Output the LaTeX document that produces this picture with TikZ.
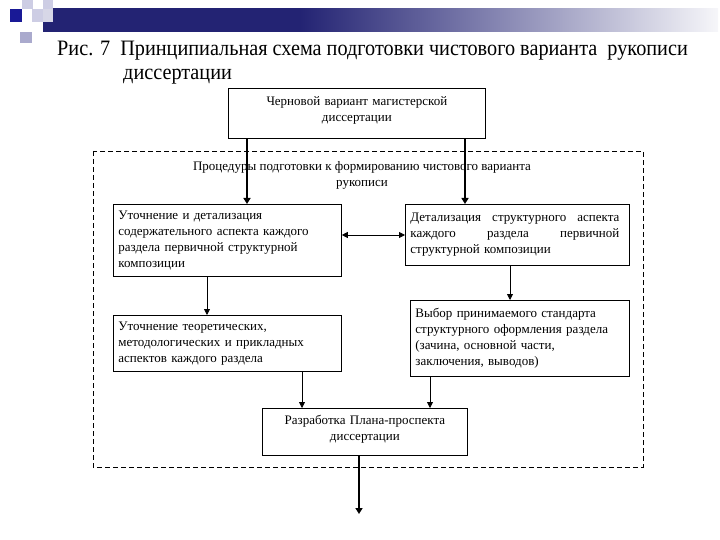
\documentclass[tikz,border=0pt]{standalone}
\usepackage{fontspec}
\setmainfont{Liberation Serif}
\newfontfamily\titlefont[FakeStretch=0.92]{Liberation Serif}
\usetikzlibrary{arrows.meta,calc}
\definecolor{navy}{RGB}{35,35,115}
\definecolor{sqdark}{RGB}{25,25,150}
\definecolor{sqlight}{RGB}{205,205,228}
\definecolor{sqmid}{RGB}{170,170,205}
\pgfdeclarehorizontalshading{barshade}{100bp}{color(0bp)=(navy); color(25bp)=(navy); color(44bp)=(navy); color(62bp)=(navy!45); color(75bp)=(navy!4); color(100bp)=(navy!4)}
\newcommand{\jline}[1]{\leavevmode\hbox to 209pt{#1}}
\tikzset{
  box/.style={draw=black, line width=0.8pt, inner xsep=5pt, inner ysep=0pt, anchor=north west,
     font=\fontsize{13}{16}\selectfont},
  conn/.style={line width=0.8pt, -{Triangle[length=6pt,width=6pt]}},
  thickconn/.style={line width=2pt, -{Triangle[length=6pt,width=7pt]}},
  dbl/.style={line width=0.8pt, {Triangle[length=6pt,width=6pt]}-{Triangle[length=6pt,width=6pt]}},
  ttl/.style={anchor=base west, inner sep=0pt, font=\titlefont\fontsize{22}{24}\selectfont},
}
\begin{document}
\begin{tikzpicture}[x=1pt,y=-1pt]
\useasboundingbox (0,0) rectangle (720,540);
% decoration
\shade[shading=barshade] (43,9) rectangle (718,32);
\fill[sqlight] (22,0) rectangle (33,9);
\fill[sqlight] (43,0) rectangle (53,9);
\fill[sqlight] (32,9) rectangle (43,22);
\fill[sqlight!70!navy!40] (43,9) rectangle (53,22);
\fill[sqdark] (10,9) rectangle (22,22);
\fill[sqmid] (20,32) rectangle (32,43);
% title
\node[ttl] (t1) at (57,56)
  {Рис. 7\ \ Принципиальная схема подготовки чистового варианта\ \ рукописи};
\node[ttl] (t2) at (123,80) {диссертации};
% frame
\draw[dash pattern=on 5pt off 3pt, line width=0.7pt] (93,151) rectangle (643,467);
% boxes
\node[box, minimum width=257pt, minimum height=50pt, align=center, text width=247pt] (top) at (228,88)
  {Черновой вариант магистерской\\диссертации\\[-8pt]\mbox{}};
\node[anchor=north, inner sep=0pt, align=center, font=\fontsize{13}{16}\selectfont] (head) at (362,161)
  {Процедуры подготовки к формированию чистового варианта\\рукописи};
\node[box, minimum width=228pt, minimum height=72pt, align=left, text width=218pt] (A) at (113,204)
  {Уточнение и детализация\\содержательного аспекта каждого\\раздела первичной структурной\\композиции};
\node[box, minimum width=224pt, minimum height=61pt, align=left, text width=214pt] (B) at (405,204)
  {\jline{Детализация\hfill структурного\hfill аспекта}\\\jline{каждого\hfill раздела\hfill первичной}\\структурной композиции};
\node[box, minimum width=228pt, minimum height=56pt, align=left, text width=218pt] (C) at (113,315)
  {Уточнение теоретических,\\методологических и прикладных\\аспектов каждого раздела};
\node[box, minimum width=219pt, minimum height=76pt, align=left, text width=209pt] (D) at (410,300)
  {Выбор принимаемого стандарта\\структурного оформления раздела\\(зачина, основной части,\\заключения, выводов)};
\node[box, minimum width=205pt, minimum height=47pt, align=center, text width=195pt] (E) at (262,408)
  {Разработка Плана-проспекта\\диссертации\\[-8pt]\mbox{}};
\coordinate (out) at (359,514);
% connectors
\draw[thickconn] (top.south -| 247,0) -- (A.north -| 247,0);
\draw[thickconn] (top.south -| 465,0) -- (B.north -| 465,0);
\draw[dbl] (A.east |- 0,235) -- (B.west |- 0,235);
\draw[conn] (A.south -| 207,0) -- (C.north -| 207,0);
\draw[conn] (B.south -| 510,0) -- (D.north -| 510,0);
\draw[conn] (C.south -| 302,0) -- (E.north -| 302,0);
\draw[conn] (D.south -| 430,0) -- (E.north -| 430,0);
\draw[thickconn] (E.south -| out) -- (out);
\end{tikzpicture}
\end{document}
